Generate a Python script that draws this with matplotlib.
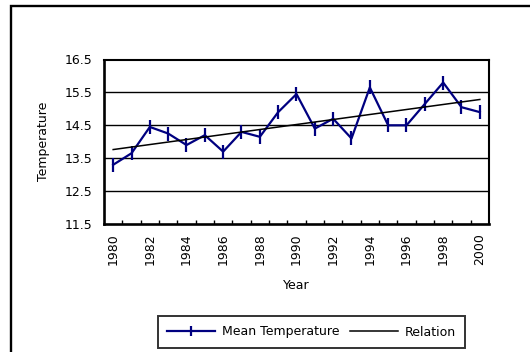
import numpy as np
import matplotlib
matplotlib.use("Agg")
import matplotlib.pyplot as plt
from matplotlib.patches import Rectangle

years = list(range(1980, 2001))
mean_temp = [13.3, 13.65, 14.45, 14.25, 13.9, 14.2, 13.7, 14.3, 14.15, 14.9,
             15.45, 14.4, 14.7, 14.1, 15.65, 14.5, 14.5, 15.15, 15.8, 15.05, 14.9]
y_ticks = [11.5, 12.5, 13.5, 14.5, 15.5, 16.5]
year_labels = [str(y) for y in years[::2]]

plt.rcParams['font.family'] = ['DejaVu Sans']
plt.rcParams['font.size'] = 9

W, H = 530, 352
fig = plt.figure(figsize=(W / 100, H / 100), dpi=100)
fig.patch.set_facecolor('white')

# outer chart frame
fig.patches.append(Rectangle((11 / W, -0.2), 2.0, 1.2 - 6 / H, transform=fig.transFigure,
                             fill=False, edgecolor='black', linewidth=1.7))

ax = fig.add_axes([104 / W, 1 - 224 / H, (489 - 104) / W, (224 - 59.5) / H])
x = np.arange(len(years))

# linear trend of the yearly means
slope, intercept = np.polyfit(x, mean_temp, 1)
trend = slope * x + intercept

ax.plot(x, mean_temp, color='#000080', linewidth=1.6, marker='|', markersize=9.5,
        markeredgewidth=1.6, label='Mean Temperature', zorder=3)
ax.plot(x, trend, color='black', linewidth=1.1, label='Relation', zorder=4)

ax.set_xlim(-0.5, len(years) - 0.5)
ax.set_ylim(11.5, 16.5)
ax.set_yticks(y_ticks)
ax.set_yticklabels([f"{v:.1f}" for v in y_ticks])
ax.tick_params(axis='y', length=0, pad=8)
for v in y_ticks[1:-1]:
    ax.axhline(v, color='black', linewidth=1.0, zorder=1)

# category boundaries as inner ticks, year labels at category centres
ax.set_xticks(np.arange(0.5, len(years) - 1, 1.0))
ax.set_xticklabels([])
ax.tick_params(axis='x', which='major', direction='in', length=3, width=1.0)
ax.set_xticks(x[::2], minor=True)
ax.set_xticklabels(year_labels, minor=True, rotation=90)
ax.tick_params(axis='x', which='minor', length=0, pad=6.5)

for side in ['top', 'right']:
    ax.spines[side].set_linewidth(1.5)
for side in ['left', 'bottom']:
    ax.spines[side].set_linewidth(1.9)

ax.set_ylabel('Temperature', labelpad=11)
ax.set_xlabel('Year', labelpad=10)

leg = fig.legend(loc='center', bbox_to_anchor=(311.5 / W, 1 - 332 / H), ncol=2,
                 frameon=True, fancybox=False, edgecolor='black', handlelength=3.85,
                 handletextpad=0.5, columnspacing=0.9, borderpad=0.75, markerscale=0.7)
leg.get_frame().set_linewidth(1.4)

fig.savefig('out.png', dpi=100, facecolor='white')
